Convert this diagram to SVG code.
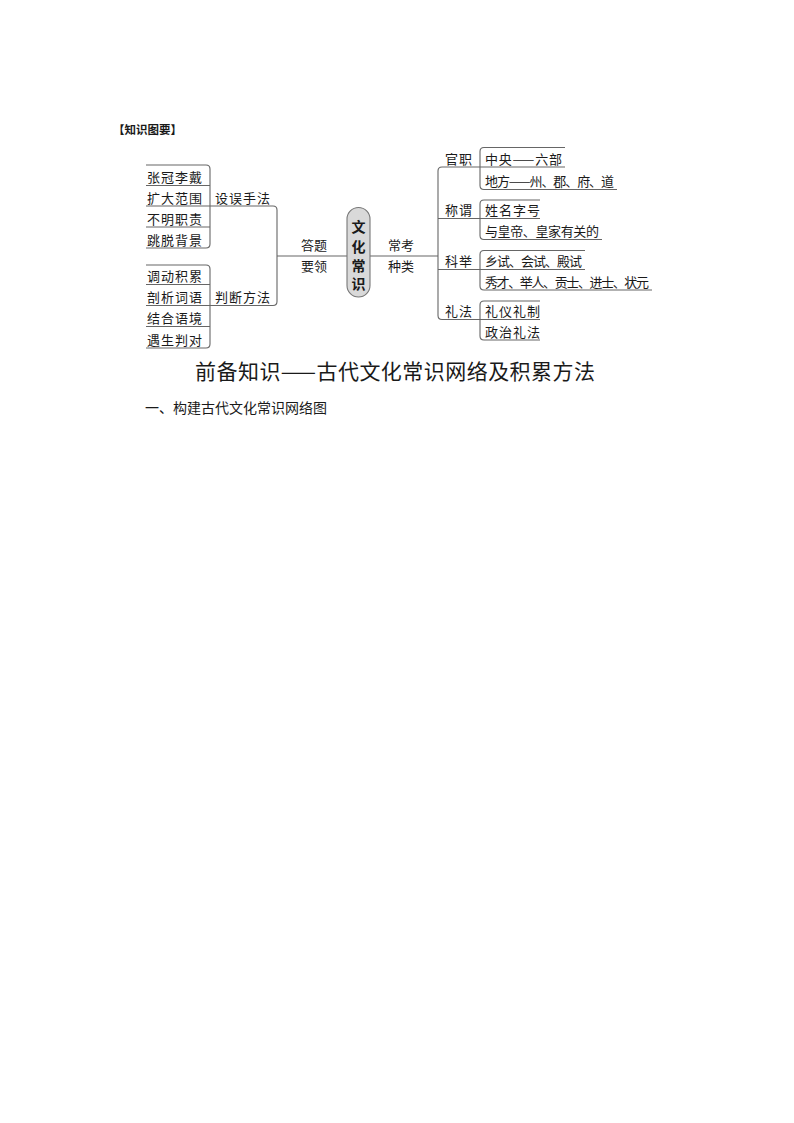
<svg xmlns="http://www.w3.org/2000/svg" width="794" height="1123" viewBox="0 0 794 1123">
<style>
  text { font-family: "Noto Sans CJK SC", "Noto Sans CJK JP", sans-serif; fill: #1a1a1a; }
  .leaf { font-size: 13px; letter-spacing: 1px; }
  .lab { font-size: 13px; letter-spacing: 1px; }
  .mid { font-size: 13px; }
  .ctr { font-size: 14px; font-weight: bold; text-anchor: middle; }
  .ln { fill: none; stroke: #666; stroke-width: 1.1; }
  .pill { fill: #d9d9d9; stroke: #777; stroke-width: 1.1; }
</style>
<rect x="0" y="0" width="794" height="1123" fill="#ffffff"/>

<g id="heading"><text x="113" y="134" font-size="11.5" font-weight="bold">【知识图要】</text></g>

<g id="connectors">
  <!-- left group 1 -->
  <path class="ln" d="M146 165 H206 Q210 165 210 169 V244 Q210 248 206 248 H146"/>
  <path class="ln" d="M146 185.5 H210 M146 227 H210"/>
  <!-- left group 2 -->
  <path class="ln" d="M146 265 H206 Q210 265 210 269 V344 Q210 348 206 348 H146"/>
  <path class="ln" d="M146 284.5 H210 M146 326.5 H210"/>
  <!-- big left bracket -->
  <path class="ln" d="M146 206 H273 Q277 206 277 210 V301.5 Q277 305.5 273 305.5 H146"/>
  <path class="ln" d="M277 256 H347"/>
  <path class="ln" d="M370 256 H438"/>
  <!-- big right bracket -->
  <path class="ln" d="M480 167 H442 Q438 167 438 171 V315.5 Q438 319.5 442 319.5 H480"/>
  <path class="ln" d="M438 218.5 H480 M438 269.5 H480"/>
  <!-- sub brackets -->
  <path class="ln" d="M565 147.5 H484 Q480 147.5 480 151.5 V185.5 Q480 189.5 484 189.5 H617 M480 167 H565"/>
  <path class="ln" d="M540 200 H484 Q480 200 480 204 V235.5 Q480 239.5 484 239.5 H602 M480 218.5 H540"/>
  <path class="ln" d="M585 250.5 H484 Q480 250.5 480 254.5 V286 Q480 290 484 290 H652 M480 269.5 H585"/>
  <path class="ln" d="M540 301 H484 Q480 301 480 305 V336 Q480 340 484 340 H540 M480 319.5 H540"/>
</g>

<g id="center">
  <rect class="pill" x="347" y="207.5" width="23" height="89.5" rx="11.5" ry="11.5"/>
  <text class="ctr" x="358.5" y="231.5">文</text>
  <text class="ctr" x="358.5" y="251.5">化</text>
  <text class="ctr" x="358.5" y="270.5">常</text>
  <text class="ctr" x="358.5" y="289">识</text>
</g>

<g id="answer-key"><text class="mid" x="301" y="250">答题</text><text class="mid" x="301" y="271">要领</text></g>
<g id="types"><text class="mid" x="388" y="250">常考</text><text class="mid" x="388" y="271">种类</text></g>

<g id="method-error"><text class="lab" x="215" y="202.5">设误手法</text></g>
<g id="leaf-zhangguan"><text class="leaf" x="147" y="182">张冠李戴</text></g>
<g id="leaf-kuoda"><text class="leaf" x="147" y="202.5">扩大范围</text></g>
<g id="leaf-buming"><text class="leaf" x="147" y="223.5">不明职责</text></g>
<g id="leaf-tiaotuo"><text class="leaf" x="147" y="244.5">跳脱背景</text></g>

<g id="method-judge"><text class="lab" x="215" y="302">判断方法</text></g>
<g id="leaf-diaodong"><text class="leaf" x="147" y="281">调动积累</text></g>
<g id="leaf-pouxi"><text class="leaf" x="147" y="302">剖析词语</text></g>
<g id="leaf-jiehe"><text class="leaf" x="147" y="323">结合语境</text></g>
<g id="leaf-yusheng"><text class="leaf" x="147" y="344.5">遇生判对</text></g>

<g id="cat-guanzhi"><text class="lab" x="445" y="163.5">官职</text></g>
<g id="leaf-zhongyang"><text class="leaf" x="485" y="163.5" textLength="78" lengthAdjust="spacing">中央——六部</text></g>
<g id="leaf-difang"><text class="leaf" x="485" y="186" textLength="130" lengthAdjust="spacing">地方——州、郡、府、道</text></g>

<g id="cat-chengwei"><text class="lab" x="445" y="215">称谓</text></g>
<g id="leaf-xingming"><text class="leaf" x="485" y="215">姓名字号</text></g>
<g id="leaf-huangdi"><text class="leaf" x="485" y="236" textLength="115" lengthAdjust="spacing">与皇帝、皇家有关的</text></g>

<g id="cat-keju"><text class="lab" x="445" y="266">科举</text></g>
<g id="leaf-xiangshi"><text class="leaf" x="485" y="266" textLength="98" lengthAdjust="spacing">乡试、会试、殿试</text></g>
<g id="leaf-xiucai"><text class="leaf" x="485" y="286.5" textLength="165" lengthAdjust="spacing">秀才、举人、贡士、进士、状元</text></g>

<g id="cat-lifa"><text class="lab" x="445" y="316">礼法</text></g>
<g id="leaf-liyi"><text class="leaf" x="485" y="316">礼仪礼制</text></g>
<g id="leaf-zhengzhi"><text class="leaf" x="485" y="336.5">政治礼法</text></g>

<g id="title"><text x="195" y="379" font-size="21" textLength="400" lengthAdjust="spacing">前备知识——古代文化常识网络及积累方法</text></g>
<g id="subtitle"><text x="145" y="413" font-size="14">一、构建古代文化常识网络图</text></g>
</svg>
